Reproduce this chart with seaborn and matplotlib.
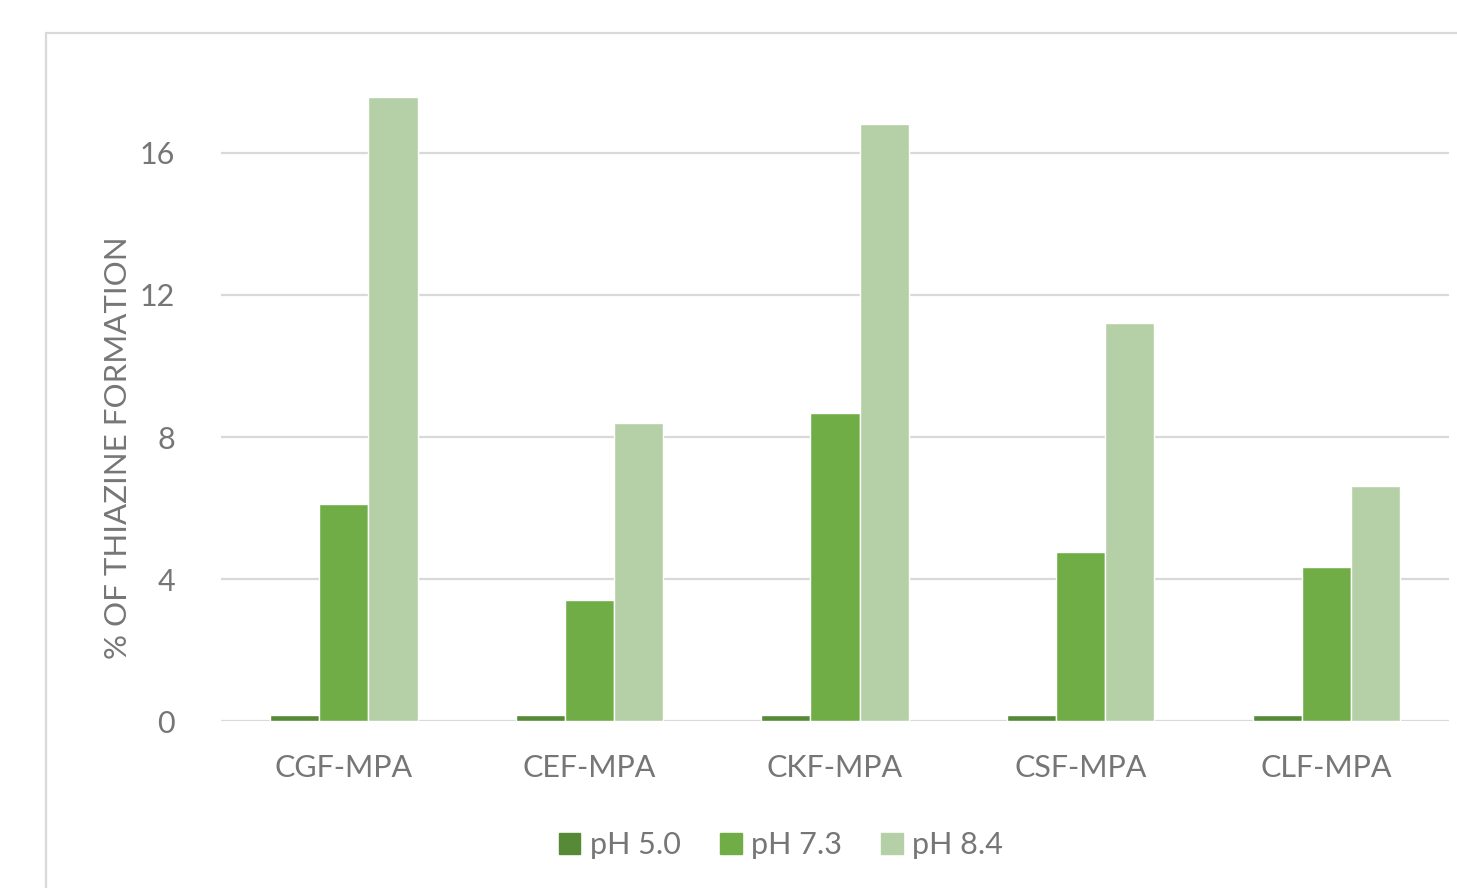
import pandas as pd
import matplotlib.pyplot as plt
import matplotlib.patches as mpatches
import seaborn as sns

# values
samples = ['CGF-MPA', 'CEF-MPA', 'CKF-MPA', 'CSF-MPA', 'CLF-MPA']
ph_levels = ['pH 5.0', 'pH 7.3', 'pH 8.4']
ph50 = [0.18, 0.18, 0.18, 0.18, 0.18]
ph73 = [6.1, 3.4, 8.68, 4.76, 4.34]
ph84 = [17.58, 8.39, 16.82, 11.21, 6.62]
yticks = [0, 4, 8, 12, 16]

colors = ['#578A37', '#70AD47', '#B5CFA6']
text_col = '#767676'
grid_col = '#D9D9D9'

df = pd.DataFrame({
    'sample': samples * 3,
    'ph': [ph_levels[0]] * 5 + [ph_levels[1]] * 5 + [ph_levels[2]] * 5,
    'value': ph50 + ph73 + ph84,
})

sns.set_style('white')
plt.rcParams['font.family'] = ['Lato', 'DejaVu Sans']

fig = plt.figure(figsize=(14.57, 8.88), dpi=100)
ax = fig.add_axes([0.1517, 0.188, 0.8428, 0.7197])

sns.barplot(data=df, x='sample', y='value', hue='ph', palette=colors,
            width=0.6, saturation=1, ax=ax, legend=False)

ax.set_ylim(0, 18)
ax.set_xlim(-0.5, 4.5)
ax.set_yticks(yticks)
ax.set_yticklabels([str(t) for t in yticks])
for t in yticks:
    ax.axhline(t, color=grid_col, lw=1.6, zorder=0)
for s in ax.spines.values():
    s.set_visible(False)
ax.tick_params(axis='both', length=0, labelsize=22, colors=text_col)
ax.tick_params(axis='y', pad=33)
ax.tick_params(axis='x', pad=24)
ax.set_xlabel('')
ax.set_ylabel('% OF THIAZINE FORMATION', fontsize=22.5, color=text_col, va='center')
ax.yaxis.set_label_coords(-0.084, 0.427)

# legend at the bottom
handles = [mpatches.Patch(color=c, label=l) for c, l in zip(colors, ph_levels)]
fig.legend(handles=handles, loc='center', bbox_to_anchor=(0.536, 0.048), ncol=3,
           frameon=False, fontsize=22, labelcolor=text_col, handlelength=0.7,
           handleheight=0.7, handletextpad=0.3, columnspacing=1.3)

# outer chart frame
fig.patches.append(mpatches.Rectangle((0.0316, -0.1), 1.2, 1.0628, transform=fig.transFigure,
                                      fill=False, edgecolor=grid_col, lw=1.6))

fig.savefig('out.png', dpi=100)
